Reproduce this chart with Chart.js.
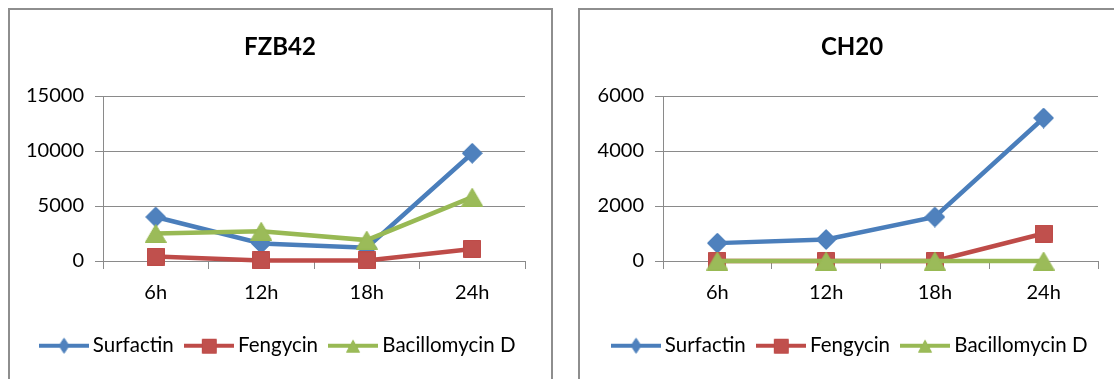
<!DOCTYPE html>
<html>
<head>
<meta charset="utf-8">
<script src="https://cdn.jsdelivr.net/npm/chart.js@4/dist/chart.umd.min.js"></script>
<style>
  html, body { margin: 0; padding: 0; background: #fff; overflow: hidden; width: 1114px; height: 379px; }
  .frame { position: absolute; border: 2px solid #8e8e8e; border-bottom: none; box-sizing: border-box; }
  canvas { position: absolute; }
</style>
</head>
<body>
<div class="frame" style="left:8px;top:8px;width:545px;height:390px"></div>
<div class="frame" style="left:578px;top:8px;width:580px;height:390px"></div>
<canvas id="fzb42" width="543" height="369" style="left:10px;top:10px"></canvas>
<canvas id="ch20" width="534" height="369" style="left:580px;top:10px"></canvas>
<script>
// Sampling times
const timePoints = ['6h', '12h', '18h', '24h'];

// Lipopeptide yields, strain FZB42
const fzbSurfactin     = [4000, 1600, 1200, 9800];
const fzbFengycin      = [400, 50, 50, 1100];
const fzbBacillomycinD = [2500, 2700, 1900, 5800];
const fzbTicks         = [0, 5000, 10000, 15000];

// Lipopeptide yields, strain CH20
const chSurfactin      = [650, 780, 1600, 5200];
const chFengycin       = [0, 0, 0, 1000];
const chBacillomycinD  = [0, 0, 0, 0];
const chTicks          = [0, 2000, 4000, 6000];

const seriesNames = ['Surfactin', 'Fengycin', 'Bacillomycin D'];

// Office-style series colours: line, marker fill
const lineColors = ['#4A7EBB', '#BE4B48', '#98B954'];
const fillColors = ['#4F81BD', '#C0504D', '#9BBB59'];
const gridColor = '#8a8a8a';

Chart.defaults.font.family = "Lato, 'Liberation Sans', sans-serif";
Chart.defaults.color = '#000';

// Marker bitmaps centred on their bounding box
function makeMarker(shape, w, h, fill, stroke) {
  const c = document.createElement('canvas');
  c.width = w; c.height = h;
  const g = c.getContext('2d');
  g.fillStyle = fill; g.strokeStyle = stroke; g.lineWidth = 1;
  g.beginPath();
  if (shape === 'diamond') {
    g.moveTo(w / 2, 0.5); g.lineTo(w - 0.5, h / 2); g.lineTo(w / 2, h - 0.5); g.lineTo(0.5, h / 2);
  } else if (shape === 'square') {
    g.rect(0.5, 0.5, w - 1, h - 1);
  } else {
    g.moveTo(w / 2, 0.5); g.lineTo(w - 0.5, h - 0.5); g.lineTo(0.5, h - 0.5);
  }
  g.closePath(); g.fill(); g.stroke();
  return c;
}

// Legend swatch: a short stretch of line with the marker in the middle
function makeLegendIcon(marker, color, w, h) {
  const c = document.createElement('canvas');
  c.width = w; c.height = h;
  const g = c.getContext('2d');
  g.strokeStyle = color; g.lineWidth = 4;
  g.beginPath(); g.moveTo(0, h / 2); g.lineTo(w, h / 2); g.stroke();
  g.drawImage(marker, Math.round((w - marker.width) / 2), Math.round((h - marker.height) / 2));
  return c;
}

const chartMarkers = [
  makeMarker('diamond', 21, 21, fillColors[0], lineColors[0]),
  makeMarker('square', 18, 18, fillColors[1], lineColors[1]),
  makeMarker('triangle', 22, 19, fillColors[2], lineColors[2])
];
const legendIcons = [
  makeLegendIcon(makeMarker('diamond', 11, 16, fillColors[0], lineColors[0]), lineColors[0], 50, 22),
  makeLegendIcon(makeMarker('square', 15, 15, fillColors[1], lineColors[1]), lineColors[1], 50, 22),
  makeLegendIcon(makeMarker('triangle', 14, 13, fillColors[2], lineColors[2]), lineColors[2], 50, 22)
];

function buildChart(canvasId, title, values, ticks, geom) {
  const datasets = values.map((data, i) => ({
    label: seriesNames[i],
    data: data,
    borderColor: lineColors[i],
    backgroundColor: fillColors[i],
    borderWidth: 4.5,
    pointStyle: chartMarkers[i],
    pointRadius: 10,
    pointHoverRadius: 10,
    tension: 0,
    clip: false,
    order: values.length - i   // later series sit on top
  }));

  return new Chart(document.getElementById(canvasId), {
    type: 'line',
    data: { labels: timePoints, datasets: datasets },
    options: {
      responsive: false,
      animation: false,
      events: [],
      layout: { padding: { left: geom.padL, right: geom.padR, top: 0, bottom: 13 } },
      plugins: {
        title: {
          display: true,
          text: title,
          font: { size: 24, weight: 'bold' },
          color: '#000',
          padding: { top: 22.6, bottom: 34.6 }
        },
        legend: {
          position: 'bottom',
          labels: {
            usePointStyle: true,
            pointStyleWidth: 38,
            padding: 16,
            font: { size: 20.5 },
            color: '#000',
            sort: (a, b) => a.datasetIndex - b.datasetIndex,
            generateLabels(chart) {
              const items = Chart.defaults.plugins.legend.labels.generateLabels(chart);
              items.forEach(it => { it.pointStyle = legendIcons[it.datasetIndex]; it.lineWidth = 0; });
              return items;
            }
          }
        },
        tooltip: { enabled: false }
      },
      scales: {
        x: {
          offset: true,
          grid: { offset: true, drawOnChartArea: false, drawTicks: true, tickLength: 8, color: gridColor },
          border: { display: true, color: gridColor },
          ticks: { font: { size: 20 }, padding: 12, color: '#000', maxRotation: 0 },
          afterFit(scale) { scale.height = 58.5; }
        },
        y: {
          min: ticks[0],
          max: ticks[ticks.length - 1],
          grid: { color: gridColor, tickLength: 8 },
          border: { display: true, color: gridColor },
          ticks: {
            stepSize: ticks[1] - ticks[0],
            font: { size: 20 },
            padding: 11,
            color: '#000',
            callback: v => String(v)
          },
          afterBuildTicks(scale) { scale.ticks = ticks.map(v => ({ value: v })); },
          afterFit(scale) { scale.width = geom.yWidth; }
        },
        // empty right-hand margin so title and legend centre over the frame
        spacer: {
          type: 'linear',
          position: 'right',
          grid: { display: false },
          border: { display: false },
          ticks: { display: false },
          afterFit(scale) { scale.width = geom.spacer; }
        }
      }
    }
  });
}

buildChart('fzb42', 'FZB42', [fzbSurfactin, fzbFengycin, fzbBacillomycinD], fzbTicks,
  { padL: 13, padR: 16, yWidth: 80, spacer: 12 });
buildChart('ch20', 'CH20', [chSurfactin, chFengycin, chBacillomycinD], chTicks,
  { padL: 14, padR: 4, yWidth: 69, spacer: 12 });
</script>
</body>
</html>
